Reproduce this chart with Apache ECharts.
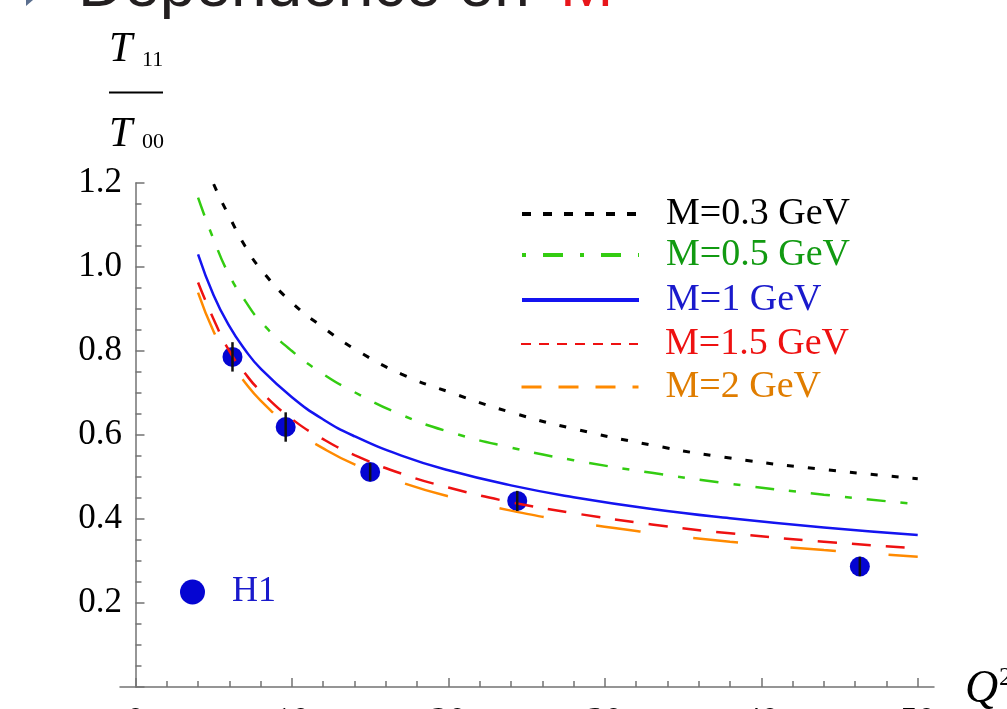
<!DOCTYPE html>
<html>
<head>
<meta charset="utf-8">
<script src="https://cdn.jsdelivr.net/npm/echarts@6/dist/echarts.min.js"></script>
<style>
html,body{margin:0;padding:0;background:#fff;}
#chart{width:1007px;height:709px;}
</style>
</head>
<body>
<div id="chart"></div>
<script>
// ---- data ----
const qGrid = [4, 5, 6, 7, 8, 10, 12, 14, 17, 20, 24, 28, 33, 38, 44, 50];
const m03 = [1.29, 1.197, 1.12, 1.05, 0.995, 0.915, 0.856, 0.805, 0.745, 0.703, 0.654, 0.615, 0.576, 0.545, 0.518, 0.496];
const m05 = [1.165, 1.065, 0.980, 0.920, 0.870, 0.800, 0.745, 0.702, 0.648, 0.608, 0.570, 0.540, 0.510, 0.484, 0.458, 0.435];
const m1  = [1.03, 0.932, 0.859, 0.803, 0.758, 0.690, 0.637, 0.597, 0.551, 0.516, 0.480, 0.452, 0.424, 0.402, 0.380, 0.362];
const m15 = [0.963, 0.875, 0.800, 0.747, 0.704, 0.638, 0.590, 0.552, 0.508, 0.475, 0.440, 0.414, 0.387, 0.366, 0.346, 0.330];
const m2  = [0.939, 0.846, 0.778, 0.725, 0.682, 0.616, 0.568, 0.530, 0.487, 0.454, 0.420, 0.393, 0.367, 0.346, 0.326, 0.310];
const h1Q   = [6.2, 9.6, 15.0, 24.4, 46.3];
const h1Val = [0.786, 0.619, 0.512, 0.443, 0.287];
const h1Err = [0.035, 0.035, 0.021, 0.024, 0.023];
const seriesNames = ['M=0.3 GeV', 'M=0.5 GeV', 'M=1 GeV', 'M=1.5 GeV', 'M=2 GeV'];
const xMajorTicks = [0, 10, 20, 30, 40, 50];
const xMinorTicks = [2, 4, 6, 8, 12, 14, 16, 18, 22, 24, 26, 28, 32, 34, 36, 38, 42, 44, 46, 48];

const SERIF = '"Liberation Serif", "DejaVu Serif", serif';
const AX = '#737373';

const curves = [m03, m05, m1, m15, m2];
const lineColors = ['#000000', '#33cc11', '#1414f0', '#ee1111', '#ff8a00'];
const textColors = ['#000000', '#119a11', '#1a1acc', '#ee1111', '#e07d00'];
const dashes = [[7, 14], [19, 15, 7, 15], 'solid', [19, 15], [45, 53]];
const lineWidths = [3, 2.5, 2.5, 2.5, 2.5];
const legendDash = [[9, 12], [4, 17, 20, 17], 'solid', [10, 8], [20, 17]];
const legendWidth = [4, 4, 4, 2, 3];
const legendCenters = [209, 250, 295, 339, 382];

const series = curves.map((vals, i) => ({
  name: seriesNames[i],
  type: 'line',
  data: qGrid.map((q, j) => [q, vals[j]]),
  smooth: 0.5,
  showSymbol: false,
  symbol: 'none',
  clip: true,
  z: 3,
  lineStyle: { color: lineColors[i], width: lineWidths[i], type: dashes[i] },
  itemStyle: { color: lineColors[i] }
}));

series.push({
  name: 'H1',
  type: 'scatter',
  data: h1Q.map((q, i) => [q, h1Val[i]]),
  symbol: 'circle',
  symbolSize: 20,
  z: 2,
  itemStyle: { color: '#0505d2', opacity: 1 }
});

series.push({
  name: 'H1err',
  type: 'custom',
  data: h1Q.map((q, i) => [q, h1Val[i] - h1Err[i], h1Val[i] + h1Err[i]]),
  encode: { x: 0, y: [1, 2] },
  z: 5,
  renderItem: function (params, api) {
    const p1 = api.coord([api.value(0), api.value(1)]);
    const p2 = api.coord([api.value(0), api.value(2)]);
    return {
      type: 'line',
      shape: { x1: p1[0], y1: p1[1], x2: p2[0], y2: p2[1] },
      style: { stroke: '#111111', lineWidth: 2.5 }
    };
  }
});

const legends = seriesNames.map((n, i) => ({
  data: [{ name: n, textStyle: { color: textColors[i] } }],
  left: 515,
  top: legendCenters[i] - 21,
  orient: 'vertical',
  itemWidth: 117,
  itemHeight: 14,
  selectedMode: false,
  textStyle: { fontFamily: SERIF, fontSize: 38, lineHeight: 42, padding: [0, 0, 0, 22] },
  lineStyle: { width: legendWidth[i], type: legendDash[i] },
  itemStyle: { opacity: 0 }
}));
legends.push({
  data: [{ name: 'H1', textStyle: { color: '#1a1acc' } }],
  left: 175,
  top: 592 - 26,
  icon: 'circle',
  itemWidth: 25,
  itemHeight: 25,
  selectedMode: false,
  itemStyle: { color: '#0505d2', opacity: 1 },
  textStyle: { fontFamily: SERIF, fontSize: 36, lineHeight: 42, padding: [0, 0, 0, 22] }
});

const option = {
  animation: false,
  backgroundColor: '#ffffff',
  grid: { left: 120, right: 73, top: 183, bottom: 22, containLabel: false, outerBoundsMode: 'none' },
  legend: legends,
  xAxis: [{
    type: 'value', min: -0.99, max: 51.04,
    axisLine: { show: true, onZero: true, lineStyle: { color: AX, width: 1.5 } },
    axisTick: { show: true, inside: true, length: 9, customValues: xMajorTicks, lineStyle: { color: AX, width: 1.5 } },
    axisLabel: { show: true, customValues: xMajorTicks, margin: 18, fontSize: 35, fontFamily: SERIF, color: '#000' },
    splitLine: { show: false }
  }, {
    type: 'value', min: -0.99, max: 51.04, position: 'bottom', offset: 0,
    axisLine: { show: false },
    axisTick: { show: true, inside: true, length: 6, customValues: xMinorTicks, lineStyle: { color: AX, width: 1.5 } },
    axisLabel: { show: false },
    splitLine: { show: false }
  }],
  yAxis: {
    type: 'value', min: 0, max: 1.2, interval: 0.2,
    axisLine: { show: true, onZero: true, lineStyle: { color: AX, width: 1.5 } },
    axisTick: { show: true, inside: true, length: 9, lineStyle: { color: AX, width: 1.5 } },
    minorTick: { show: true, splitNumber: 4, length: 6, lineStyle: { color: AX, width: 1.5 } },
    axisLabel: {
      margin: -2, fontSize: 35, fontFamily: SERIF, color: '#000',
      formatter: v => (v === 0 ? '' : v.toFixed(1))
    },
    splitLine: { show: false },
    minorSplitLine: { show: false }
  },
  graphic: [
    { type: 'polygon', shape: { points: [[26, -22], [40, -6], [26, 6]] }, style: { fill: '#5b6f8f' } },
    { type: 'text', x: 78, y: -12, style: { text: 'Dependence on ', font: '64px "Liberation Sans", Arial, sans-serif', fill: '#231f20', textAlign: 'left', textVerticalAlign: 'middle' } },
    { type: 'text', x: 560, y: -12, style: { text: 'M', font: '64px "Liberation Sans", Arial, sans-serif', fill: '#e8161b', textAlign: 'left', textVerticalAlign: 'middle' } },
    { type: 'text', x: 109, y: 50, style: { text: 'T', font: 'italic 42px ' + SERIF, fill: '#000', textAlign: 'left', textVerticalAlign: 'middle' } },
    { type: 'text', x: 142, y: 60, style: { text: '11', font: '22px ' + SERIF, fill: '#000', textAlign: 'left', textVerticalAlign: 'middle' } },
    { type: 'line', shape: { x1: 109, y1: 92.5, x2: 163, y2: 92.5 }, style: { stroke: '#000', lineWidth: 2 } },
    { type: 'text', x: 109, y: 135, style: { text: 'T', font: 'italic 42px ' + SERIF, fill: '#000', textAlign: 'left', textVerticalAlign: 'middle' } },
    { type: 'text', x: 142, y: 142, style: { text: '00', font: '22px ' + SERIF, fill: '#000', textAlign: 'left', textVerticalAlign: 'middle' } },
    { type: 'text', x: 965, y: 690, style: { text: 'Q', font: 'italic 46px ' + SERIF, fill: '#000', textAlign: 'left', textVerticalAlign: 'middle' } },
    { type: 'text', x: 999, y: 678, style: { text: '2', font: '26px ' + SERIF, fill: '#000', textAlign: 'left', textVerticalAlign: 'middle' } }
  ],
  series: series
};

const chart = echarts.init(document.getElementById('chart'), null, { renderer: 'canvas' });
chart.setOption(option);
</script>
</body>
</html>
